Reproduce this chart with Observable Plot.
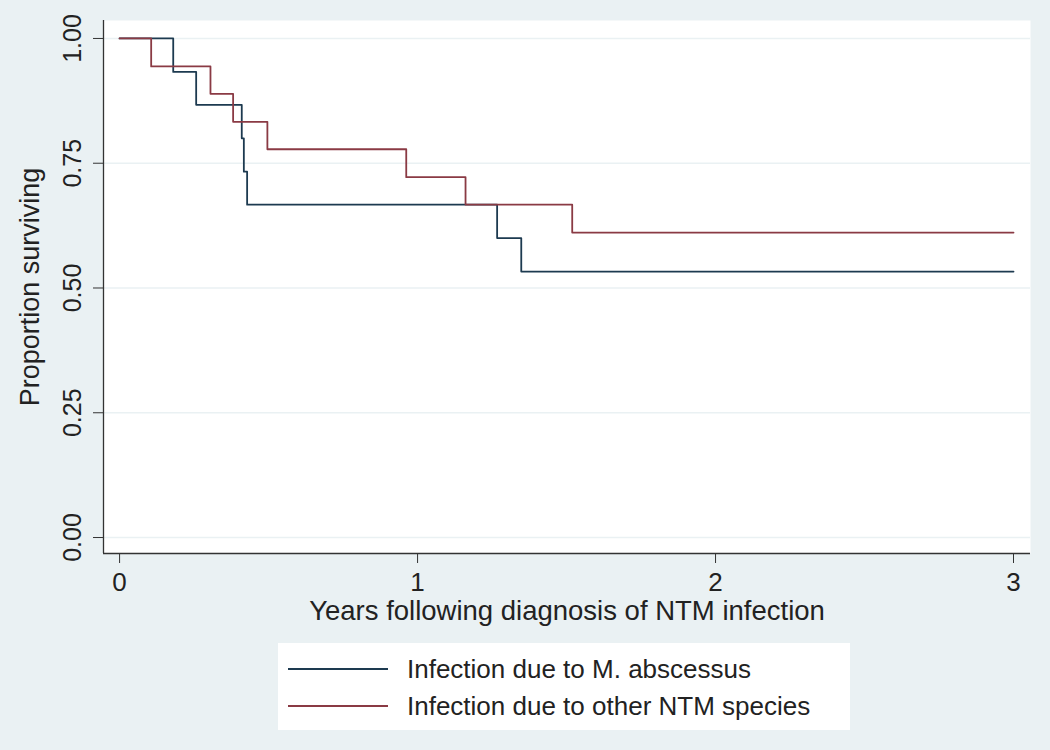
<!DOCTYPE html>
<html>
<head>
<meta charset="utf-8">
<script src="https://cdn.jsdelivr.net/npm/d3@7"></script>
<script src="https://cdn.jsdelivr.net/npm/@observablehq/plot@0.6"></script>
<style>
  html, body { margin: 0; padding: 0; background: #eaf1f3; }
  body { width: 1050px; height: 750px; overflow: hidden; font-family: "Liberation Sans", Arial, sans-serif; }
  #legend { margin-left: 278px; margin-top: 3px; }
</style>
</head>
<body>
<div id="chart"></div>
<div id="legend"></div>
<script>
// ---- data ----
const seriesNames = ["Infection due to M. abscessus", "Infection due to other NTM species"];
const seriesColors = ["#1d3a50", "#8a3a44"];

const abscessusYears = [0, 0.180, 0.257, 0.410, 0.417, 0.428, 1.267, 1.348, 3];
const abscessusSurv  = [1, 0.933, 0.867, 0.800, 0.733, 0.667, 0.600, 0.533, 0.533];

const otherYears = [0, 0.106, 0.305, 0.381, 0.496, 0.962, 1.161, 1.519, 3];
const otherSurv  = [1, 0.944, 0.889, 0.833, 0.778, 0.722, 0.667, 0.611, 0.611];

const xTicks = [0, 1, 2, 3];
const yTicks = [0, 0.25, 0.5, 0.75, 1];
const xTitle = "Years following diagnosis of NTM infection";
const yTitle = "Proportion surviving";

// ---- build table ----
const rows = [
  ...abscessusYears.map((t, i) => ({series: seriesNames[0], t, s: abscessusSurv[i]})),
  ...otherYears.map((t, i) => ({series: seriesNames[1], t, s: otherSurv[i]}))
];

const xDomain = [-0.054, 3.057];
const yDomain = [-0.032, 1.036];
const font = '"Liberation Sans", Arial, sans-serif';
const axisColor = "#333";

const chart = Plot.plot({
  width: 1050,
  height: 640,
  marginLeft: 103,
  marginRight: 20,
  marginTop: 20,
  marginBottom: 87,
  style: {background: "transparent", fontFamily: font, color: "#222"},
  x: {domain: xDomain, axis: null},
  y: {domain: yDomain, axis: null},
  color: {domain: seriesNames, range: seriesColors},
  marks: [
    Plot.frame({fill: "white", stroke: null}),
    Plot.ruleY(yTicks, {stroke: "#eaf1f3", strokeWidth: 1.5}),
    // axis lines
    Plot.ruleX([xDomain[0]], {stroke: axisColor, strokeWidth: 1.3}),
    Plot.ruleY([yDomain[0]], {stroke: axisColor, strokeWidth: 1.3}),
    // x axis ticks & labels
    Plot.axisX({ticks: xTicks, tickSize: 10, tickPadding: 9, fontSize: 26, stroke: axisColor, label: null, tickFormat: d => String(d), anchor: "bottom"}),
    // y axis ticks
    Plot.axisY({ticks: yTicks, tickSize: 10, tickFormat: () => "", stroke: axisColor, label: null, anchor: "left"}),
    // y tick labels (rotated)
    Plot.text(yTicks, {frameAnchor: "left", y: d => d, text: d => d.toFixed(2), rotate: -90, dx: -31, textAnchor: "middle", lineAnchor: "middle", fontSize: 25, fill: "#222"}),
    // axis titles
    Plot.text([xTitle], {frameAnchor: "bottom", dy: 58, text: d => d, fontSize: 27.5, fill: "#222", lineAnchor: "middle"}),
    Plot.text([yTitle], {frameAnchor: "left", dx: -73, text: d => d, rotate: -90, fontSize: 27, fill: "#222", textAnchor: "middle", lineAnchor: "middle"}),
    // survival curves
    Plot.line(rows, {x: "t", y: "s", z: "series", stroke: "series", curve: "step-after", strokeWidth: 1.8})
  ]
});
document.getElementById("chart").appendChild(chart);

// ---- legend ----
const lw = 572, lh = 87;
const leg = d3.select("#legend").append("svg")
  .attr("width", lw).attr("height", lh)
  .style("display", "block");
leg.append("rect").attr("width", lw).attr("height", lh).attr("fill", "white");
const items = leg.selectAll("g").data(seriesNames).join("g")
  .attr("transform", (d, i) => `translate(0, ${26 + i * 37})`);
items.append("line")
  .attr("x1", 10).attr("x2", 110).attr("y1", 0).attr("y2", 0)
  .attr("stroke", (d, i) => seriesColors[i]).attr("stroke-width", 1.8);
items.append("text")
  .attr("x", 129).attr("y", 0).attr("dy", "0.35em")
  .attr("font-family", font).attr("font-size", 26).attr("fill", "#222")
  .text(d => d);
</script>
</body>
</html>
